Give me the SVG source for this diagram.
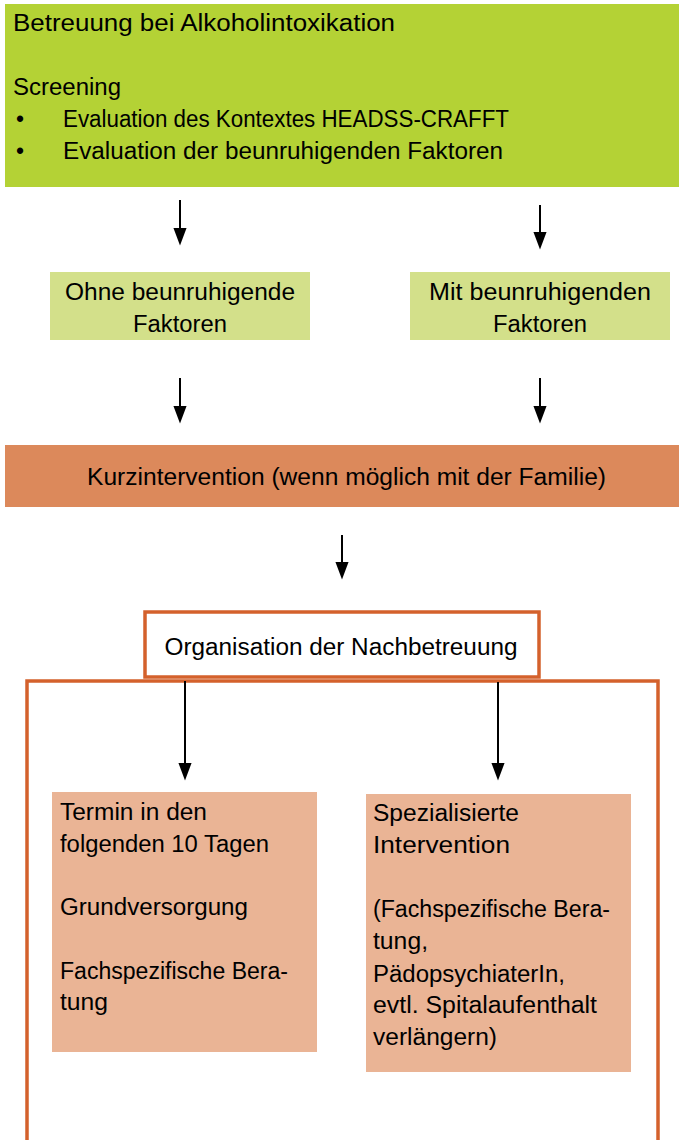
<svg xmlns="http://www.w3.org/2000/svg" width="679" height="1140" viewBox="0 0 679 1140">
<style>
text{font-family:"Liberation Sans",Arial,sans-serif;font-size:23px;fill:#000}
.c{text-anchor:middle}
.arr{stroke:#000;stroke-width:2;fill:none;marker-end:url(#ah)}
.frame{fill:#fff;stroke:#d4612c;stroke-width:3.5}
</style>
<defs>
<marker id="ah" markerUnits="userSpaceOnUse" markerWidth="18" markerHeight="14" viewBox="0 0 16 12" refX="12" refY="6" orient="auto">
<path d="M0,0 L16,6 L0,12 z" fill="#000"/>
</marker>
</defs>
<rect width="679" height="1140" fill="#fff"/>

<g id="screening">
<rect x="5" y="4" width="674" height="183" fill="#b4d235"/>
<text x="13" y="31" textLength="382" lengthAdjust="spacingAndGlyphs">Betreuung bei Alkoholintoxikation</text>
<text x="13" y="95" textLength="108" lengthAdjust="spacingAndGlyphs">Screening</text>
<text x="16" y="127">•</text>
<text x="63" y="127" textLength="446" lengthAdjust="spacingAndGlyphs">Evaluation des Kontextes HEADSS-CRAFFT</text>
<text x="16" y="159">•</text>
<text x="63" y="159" textLength="440" lengthAdjust="spacingAndGlyphs">Evaluation der beunruhigenden Faktoren</text>
</g>

<g id="ohne">
<rect x="50" y="272" width="260" height="68" fill="#d3e08a"/>
<text class="c" x="180" y="300" textLength="230" lengthAdjust="spacingAndGlyphs">Ohne beunruhigende</text>
<text class="c" x="180" y="332" textLength="94" lengthAdjust="spacingAndGlyphs">Faktoren</text>
</g>

<g id="mit">
<rect x="410" y="272" width="260" height="68" fill="#d3e08a"/>
<text class="c" x="540" y="300" textLength="222" lengthAdjust="spacingAndGlyphs">Mit beunruhigenden</text>
<text class="c" x="540" y="332" textLength="94" lengthAdjust="spacingAndGlyphs">Faktoren</text>
</g>

<g id="kurzintervention">
<rect x="5" y="445" width="674" height="62" fill="#dc895b"/>
<text class="c" x="346.5" y="485" textLength="519" lengthAdjust="spacingAndGlyphs">Kurzintervention (wenn möglich mit der Familie)</text>
</g>

<g id="nachbetreuung-rahmen">
<rect class="frame" x="27" y="681" width="631" height="480"/>
</g>

<g id="organisation">
<rect class="frame" x="145" y="612" width="394" height="65"/>
<text class="c" x="341" y="655" textLength="353" lengthAdjust="spacingAndGlyphs">Organisation der Nachbetreuung</text>
</g>

<g id="termin">
<rect x="52" y="792" width="265" height="260" fill="#eab495"/>
<text x="60" y="820" textLength="147" lengthAdjust="spacingAndGlyphs">Termin in den</text>
<text x="60" y="852" textLength="209" lengthAdjust="spacingAndGlyphs">folgenden 10 Tagen</text>
<text x="60" y="915" textLength="188" lengthAdjust="spacingAndGlyphs">Grundversorgung</text>
<text x="60" y="979" textLength="228" lengthAdjust="spacingAndGlyphs">Fachspezifische Bera-</text>
<text x="60" y="1010" textLength="48" lengthAdjust="spacingAndGlyphs">tung</text>
</g>

<g id="spezialisiert">
<rect x="366" y="794" width="265" height="278" fill="#eab495"/>
<text x="373" y="821" textLength="146" lengthAdjust="spacingAndGlyphs">Spezialisierte</text>
<text x="373" y="853" textLength="137" lengthAdjust="spacingAndGlyphs">Intervention</text>
<text x="373" y="917" textLength="237" lengthAdjust="spacingAndGlyphs">(Fachspezifische Bera-</text>
<text x="373" y="949" textLength="55" lengthAdjust="spacingAndGlyphs">tung,</text>
<text x="373" y="982" textLength="192" lengthAdjust="spacingAndGlyphs">PädopsychiaterIn,</text>
<text x="373" y="1013" textLength="224" lengthAdjust="spacingAndGlyphs">evtl. Spitalaufenthalt</text>
<text x="373" y="1045" textLength="124" lengthAdjust="spacingAndGlyphs">verlängern)</text>
</g>

<g id="connectors">
<line class="arr" x1="180" y1="200" x2="180" y2="241"/>
<line class="arr" x1="540" y1="205" x2="540" y2="245"/>
<line class="arr" x1="180" y1="378" x2="180" y2="419"/>
<line class="arr" x1="540" y1="378" x2="540" y2="419"/>
<line class="arr" x1="342" y1="535" x2="342" y2="575"/>
<line class="arr" x1="185" y1="681" x2="185" y2="776"/>
<line class="arr" x1="498" y1="682" x2="498" y2="776"/>
</g>
</svg>
